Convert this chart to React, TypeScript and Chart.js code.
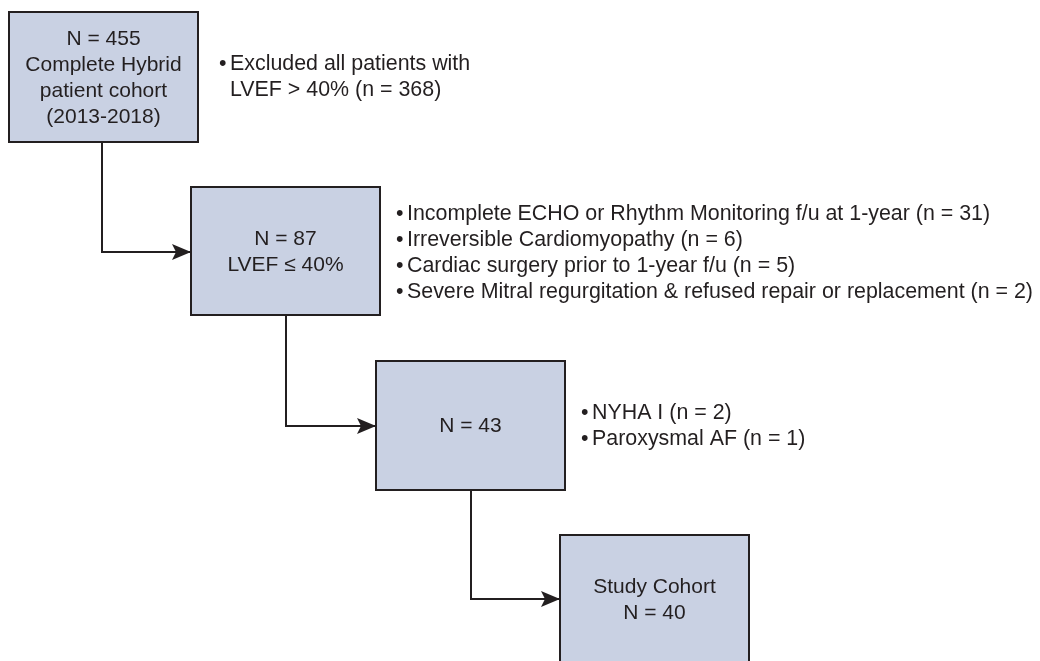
import React, { useEffect, useRef } from "react";
import { Chart, registerables } from "chart.js";

Chart.register(...registerables);

// ---- Flowchart data (in chart units, x: 0..1040, y: 0..661 top-down) ----
const boxLeft = [9, 191, 376, 560];
const boxRight = [198, 380, 565, 749];
const boxTop = [12, 187, 361, 535];
const boxBottom = [142, 315, 490, 663];
const boxLines = [
  ["N = 455", "Complete Hybrid", "patient cohort", "(2013-2018)"],
  ["N = 87", "LVEF \u2264 40%"],
  ["N = 43"],
  ["Study Cohort", "N = 40"],
];

const noteX = [222, 399, 584];
const noteY = [64, 214, 413];
const noteItems = [
  [["Excluded all patients with", "LVEF > 40% (n = 368)"]],
  [
    ["Incomplete ECHO or Rhythm Monitoring f/u at 1-year (n = 31)"],
    ["Irreversible Cardiomyopathy (n = 6)"],
    ["Cardiac surgery prior to 1-year f/u (n = 5)"],
    ["Severe Mitral regurgitation & refused repair or replacement (n = 2)"],
  ],
  [["NYHA I (n = 2)"], ["Paroxysmal AF (n = 1)"]],
];

const connectorX = [102, 286, 471];
const connectorFromY = [142, 315, 490];
const connectorToY = [252, 426, 599];
const connectorToX = [191, 376, 560];

const INK = "#231f20";
const FILL = "#c9d1e3";
const FONT = '21px "Liberation Sans", Arial, Helvetica, sans-serif';
const NOTE_FONT = '21.4px "Liberation Sans", Arial, Helvetica, sans-serif';
const LINE_H = 26;

const flowPlugin = {
  id: "flow",
  afterDatasetsDraw(chart: any) {
    const { ctx } = chart;
    const xs = chart.scales.x;
    const ys = chart.scales.y;
    ctx.save();
    // boxes
    for (let i = 0; i < boxLeft.length; i++) {
      const x0 = xs.getPixelForValue(boxLeft[i]);
      const x1 = xs.getPixelForValue(boxRight[i]);
      const y0 = ys.getPixelForValue(boxTop[i]);
      const y1 = ys.getPixelForValue(boxBottom[i]);
      ctx.fillStyle = FILL;
      ctx.fillRect(x0, y0, x1 - x0, y1 - y0);
      ctx.strokeStyle = INK;
      ctx.lineWidth = 2;
      ctx.strokeRect(x0, y0, x1 - x0, y1 - y0);
      // text
      ctx.fillStyle = INK;
      ctx.font = FONT;
      ctx.textAlign = "center";
      ctx.textBaseline = "middle";
      const lines = boxLines[i];
      const cx = (x0 + x1) / 2;
      const cy = (y0 + y1) / 2;
      const startY = cy - ((lines.length - 1) * LINE_H) / 2;
      lines.forEach((t, k) => ctx.fillText(t, cx, startY + k * LINE_H + 1));
    }
    // arrow heads
    chart.data.datasets.forEach((ds: any, i: number) => {
      const meta = chart.getDatasetMeta(i);
      const pts = meta.data;
      const tip = pts[pts.length - 1];
      const tx = tip.x, ty = tip.y;
      ctx.fillStyle = INK;
      ctx.beginPath();
      ctx.moveTo(tx, ty);
      ctx.lineTo(tx - 19, ty - 8);
      ctx.lineTo(tx - 15, ty);
      ctx.lineTo(tx - 19, ty + 8);
      ctx.closePath();
      ctx.fill();
    });
    // notes
    ctx.fillStyle = INK;
    ctx.font = NOTE_FONT;
    ctx.textAlign = "left";
    ctx.textBaseline = "middle";
    noteItems.forEach((items, g) => {
      const bx = xs.getPixelForValue(noteX[g]);
      let row = 0;
      items.forEach((item) => {
        item.forEach((t, k) => {
          const y = ys.getPixelForValue(noteY[g]) + row * LINE_H;
          if (k === 0) ctx.fillText("\u2022", bx - 3, y);
          ctx.fillText(t, bx + 8, y);
          row++;
        });
      });
    });
    ctx.restore();
  },
};

export default function App() {
  const ref = useRef<HTMLCanvasElement | null>(null);
  useEffect(() => {
    document.body.style.margin = "0";
    const datasets = connectorX.map((cx, i) => ({
      data: [
        { x: cx, y: connectorFromY[i] },
        { x: cx, y: connectorToY[i] },
        { x: connectorToX[i], y: connectorToY[i] },
      ],
      showLine: true,
      borderColor: INK,
      borderWidth: 2,
      pointRadius: 0,
      tension: 0,
      fill: false,
    }));
    const chart = new Chart(ref.current as HTMLCanvasElement, {
      type: "scatter",
      data: { datasets },
      options: {
        animation: false,
        responsive: false,
        maintainAspectRatio: false,
        layout: { padding: 0 },
        plugins: { legend: { display: false }, tooltip: { enabled: false } },
        scales: {
          x: { type: "linear", min: 0, max: 1040, display: false },
          y: { type: "linear", min: 0, max: 661, reverse: true, display: false },
        },
      },
      plugins: [flowPlugin],
    } as any);
    return () => chart.destroy();
  }, []);
  return (
    <div style={{ width: 1040, height: 661, background: "#fff" }}>
      <canvas ref={ref} width={1040} height={661} style={{ display: "block" }} />
    </div>
  );
}
